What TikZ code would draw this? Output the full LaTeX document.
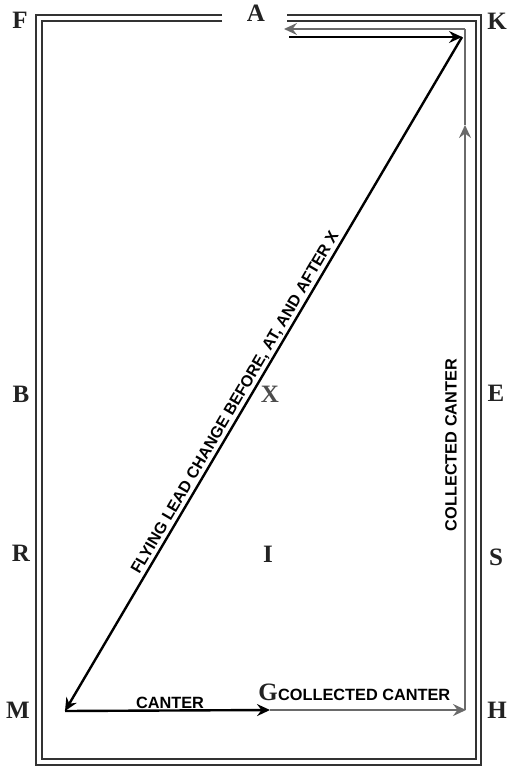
\documentclass[tikz,border=0pt]{standalone}
\usepackage{fontspec}
\setmainfont{Liberation Serif}
\setsansfont{Liberation Sans}
\usetikzlibrary{arrows.meta}
\definecolor{pathgray}{HTML}{6A6A6A}
\definecolor{lettercol}{HTML}{222222}
\tikzset{
  x=1pt, y=-1pt,
  arena/.style={draw=black!80, line width=1.4pt},
  tip/.style={-{Stealth[length=13pt,width=12pt,inset=4.5pt]}},
  blackpath/.style={draw=black, line width=2.4pt, tip},
  graypath/.style={draw=pathgray, line width=2.4pt},
  grayarrow/.style={graypath, tip},
  letter/.style={font=\fontsize{25}{25}\selectfont\bfseries, text=lettercol, inner sep=0pt},
  lbl/.style={font=\sffamily\bfseries\fontsize{16.3}{16.3}\selectfont, inner sep=1pt},
  dlbl/.style={font=\sffamily\bfseries\fontsize{16}{16}\selectfont, inner sep=1.5pt},
}
\begin{document}
\begin{tikzpicture}
\useasboundingbox (0,0) rectangle (510,767);
% arena
\coordinate (oA1) at (222,15); \coordinate (oF) at (36,15); \coordinate (oM) at (36,765);
\coordinate (oH) at (481,765); \coordinate (oK) at (481,15); \coordinate (oA2) at (287,15);
\coordinate (iA1) at (222,21); \coordinate (iF) at (42,21); \coordinate (iM) at (42,759);
\coordinate (iH) at (476,759); \coordinate (iK) at (476,21); \coordinate (iA2) at (287,21);
\draw[arena] (oA1) -- (oF) -- (oM) -- (oH) -- (oK) -- (oA2);
\draw[arena] (iA1) -- (iF) -- (iM) -- (iH) -- (iK) -- (iA2);
% letters
\node[letter] (F) at (20,20) {F};
\node[letter] (A) at (256,13) {A};
\node[letter] (K) at (497,21) {K};
\node[letter] (B) at (21,394) {B};
\node[letter, text=black!70] (X) at (270,394) {X};
\node[letter] (E) at (496,393) {E};
\node[letter] (R) at (21,553) {R};
\node[letter] (I) at (268,554) {I};
\node[letter] (S) at (496,557) {S};
\node[letter] (M) at (18,710) {M};
\node[letter] (G) at (268,692) {G};
\node[letter] (H) at (497,710) {H};
% path points
\coordinate (pA) at (289,37);
\coordinate (pK) at (462,37);
\coordinate (pM) at (65,711);
\coordinate (pG) at (270,710);
\coordinate (pH) at (466,710);
\coordinate (pMid) at (465,125);
\coordinate (pK2) at (465,29);
\coordinate (pA2) at (284,29);
% gray (collected canter)
\draw[grayarrow] (pG) -- (pH);
\draw[grayarrow] (465,710) -- (pMid);
\draw[graypath] (pMid) -- (pK2);
\draw[grayarrow] (pK2) -- (pA2);
% black
\draw[blackpath] (pA) -- (pK);
\draw[blackpath] (pK) -- (pM) node[dlbl, pos=0.55, anchor=south, rotate=59.54] (diag) {FLYING LEAD CHANGE BEFORE, AT, AND AFTER X};
\draw[blackpath] (pM) -- (pG);
% labels
\node[lbl] (canter) at (170,703) {CANTER};
\node[lbl, anchor=west] (cc1) at (277,695) {COLLECTED CANTER};
\node[lbl, rotate=90] (cc2) at (451,445) {COLLECTED CANTER};
\end{tikzpicture}
\end{document}
